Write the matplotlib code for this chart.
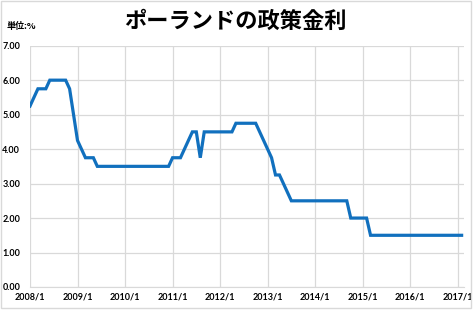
import matplotlib
matplotlib.use("Agg")
import matplotlib.pyplot as plt
from matplotlib.patches import Rectangle

# Poland policy rate, monthly from 2008/1 to 2017/2 (%)
rates = (
    [5.25, 5.5, 5.75, 5.75, 5.75, 6.0, 6.0, 6.0, 6.0, 6.0, 5.75, 5.0,
     4.25, 4.0, 3.75, 3.75, 3.75]
    + [3.5] * 19
    + [3.75, 3.75, 3.75, 4.0, 4.25, 4.5, 4.5, 3.75]
    + [4.5] * 8
    + [4.75] * 6
    + [4.5, 4.25, 4.0, 3.75, 3.25, 3.25, 3.0, 2.75]
    + [2.5] * 15
    + [2.0] * 5
    + [1.5] * 24
)
months = list(range(len(rates)))

year_labels = ["2008/1", "2009/1", "2010/1", "2011/1", "2012/1",
               "2013/1", "2014/1", "2015/1", "2016/1", "2017/1"]
year_pos = [12 * i for i in range(len(year_labels))]
y_ticks = [0, 1, 2, 3, 4, 5, 6, 7]

title = "ポーランドの政策金利"
unit = "単位:%"

jp = ["Noto Sans CJK JP", "DejaVu Sans"]
grid_c = "#d9d9d9"

fig = plt.figure(figsize=(4.73, 3.10), dpi=100)
fig.patches.append(Rectangle((0.002, 0.008), 0.994, 0.988, transform=fig.transFigure,
                             fill=False, edgecolor=grid_c, linewidth=1))
ax = fig.add_axes([30 / 473, 1 - 287 / 310, 434 / 473, (287 - 45.7) / 310])

ax.plot(months, rates, color="#1170be", linewidth=2.3, solid_joinstyle="miter")

ax.set_xlim(0, 109.6)
ax.set_ylim(0, 7)
ax.set_xticks(year_pos)
ax.set_xticklabels(year_labels)
ax.set_yticks(y_ticks)
ax.set_yticklabels([f"{v:.2f}" for v in y_ticks])
ax.grid(True, color=grid_c, linewidth=0.9)
ax.set_axisbelow(True)
for s in ["top", "right", "left"]:
    ax.spines[s].set_visible(False)
ax.spines["bottom"].set_color(grid_c)
ax.tick_params(axis="both", length=0, labelsize=6.5)
ax.tick_params(axis="y", pad=7)
ax.tick_params(axis="x", pad=4)
for lab in ax.get_xticklabels() + ax.get_yticklabels():
    lab.set_fontfamily("Lato")
    lab.set_fontweight("bold")

fig.text(0.497, 0.932, title, ha="center", va="center", fontsize=16,
         fontweight="bold", family=jp)
fig.text(0.013, 0.916, unit, ha="left", va="center", fontsize=6.5,
         fontweight="bold", family=jp)

fig.savefig("out.png", dpi=100)
